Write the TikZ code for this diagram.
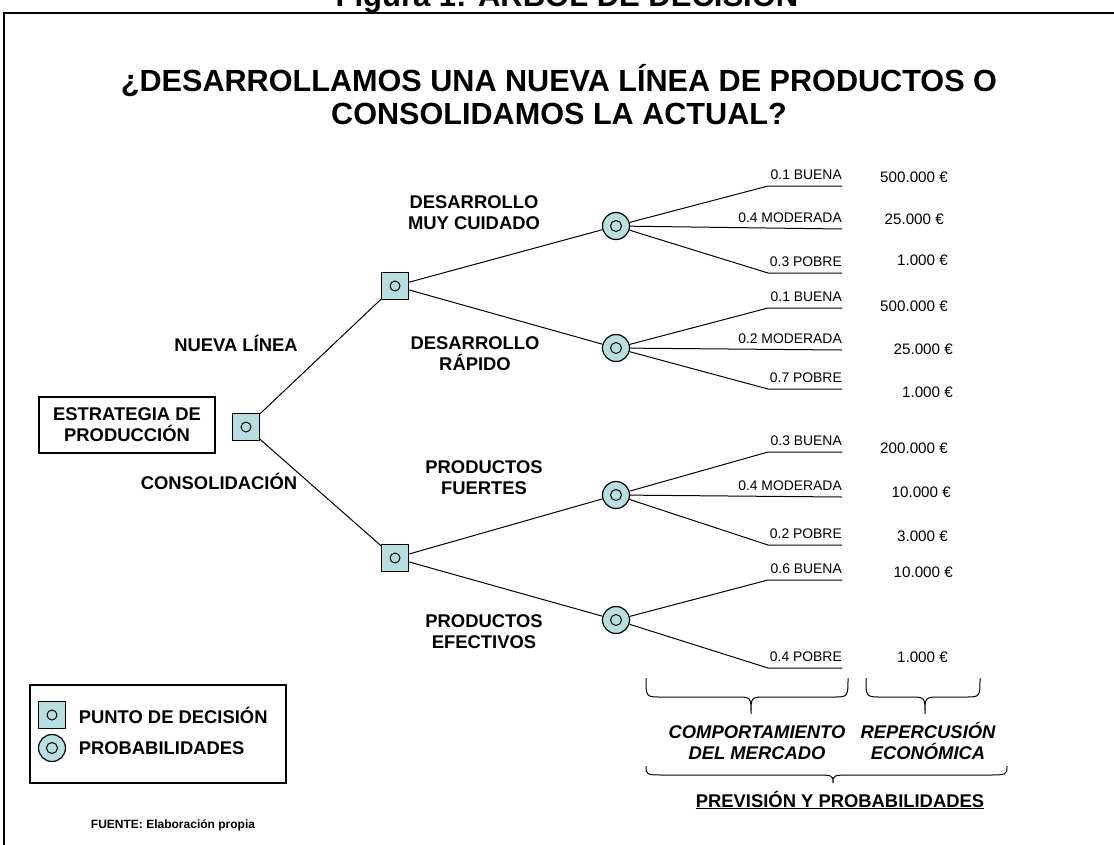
\documentclass[tikz,border=0pt]{standalone}
\usepackage{fontspec}
\setmainfont{Liberation Sans}
\usetikzlibrary{positioning}
\definecolor{celeste}{RGB}{184,222,226}

\begin{document}
\begin{tikzpicture}[
x=1pt, y=-1pt,
decision/.style={rectangle, draw=black, fill=celeste, line width=1.2pt, minimum size=27pt, inner sep=0pt,
  path picture={\draw[line width=1pt] (path picture bounding box.center) circle (5pt);}},
chance/.style={circle, draw=black, fill=celeste, line width=1.2pt, minimum size=27pt, inner sep=0pt,
  path picture={\draw[line width=1pt] (path picture bounding box.center) circle (5.5pt);}},
rama/.style={line width=1pt},
opcion/.style={align=center, font=\fontsize{18.4}{21}\selectfont\bfseries, inner sep=0pt},
mercado/.style={align=center, font=\fontsize{18.4}{21}\selectfont\bfseries\itshape, inner sep=0pt},
prob/.style={anchor=south east, inner xsep=0pt, inner ysep=6pt, font=\fontsize{13.9}{16}\selectfont},
valor/.style={anchor=base east, inner sep=0pt, font=\fontsize{15.2}{18}\selectfont}
]
\useasboundingbox (0,0) rectangle (1114,844);

% marco y titulos
\draw[line width=2pt] (4,850) -- (4,13) -- (1120,13);
\node[font=\fontsize{31}{33}\selectfont\bfseries, anchor=base] (figura) at (567,6) {Figura 1: ÁRBOL DE DECISIÓN};
\node[font=\fontsize{30.6}{33}\selectfont\bfseries, align=center] (titulo) at (559,95)
  {¿DESARROLLAMOS UNA NUEVA LÍNEA DE PRODUCTOS O\\CONSOLIDAMOS LA ACTUAL?};

% nodos del arbol
\node[draw, line width=1.2pt, opcion, minimum width=176pt, minimum height=56pt] (inicio) at (127,425) {ESTRATEGIA DE\\PRODUCCIÓN};
\node[decision] (d0) at (246,427) {};
\node[decision] (d1) at (395,286) {};
\node[decision] (d2) at (395,558) {};
\node[chance] (c1) at (616,226) {};
\node[chance] (c2) at (616,348) {};
\node[chance] (c3) at (616,495) {};
\node[chance] (c4) at (616,620) {};

\draw[rama] (d0) -- (d1);
\draw[rama] (d0) -- (d2);
\draw[rama] (d1) -- (c1);
\draw[rama] (d1) -- (c2);
\draw[rama] (d2) -- (c3);
\draw[rama] (d2) -- (c4);

% etiquetas de las alternativas
\node[opcion] (nueva) at (236,343) {NUEVA LÍNEA};
\node[opcion] (consol) at (219,481) {CONSOLIDACIÓN};
\node[opcion] (cuidado) at (474,213) {DESARROLLO\\MUY CUIDADO};
\node[opcion] (rapido) at (475,354) {DESARROLLO\\RÁPIDO};
\node[opcion] (fuertes) at (484,478) {PRODUCTOS\\FUERTES};
\node[opcion] (efectivos) at (484,632) {PRODUCTOS\\EFECTIVOS};

% ramas de probabilidad
\coordinate (k1a) at (768,186);
\coordinate (k1c) at (768,273);
\node[prob] (p1a) at (842,186) {0.1 BUENA};
\node[prob] (p1b) at (842,229) {0.4 MODERADA};
\node[prob] (p1c) at (842,273) {0.3 POBRE};
\draw[rama] (c1) -- (k1a) -- (p1a.south east);
\draw[rama] (c1) -- (p1b.south east);
\draw[rama] (c1) -- (k1c) -- (p1c.south east);

\coordinate (k2a) at (768,308);
\coordinate (k2c) at (768,389);
\node[prob] (p2a) at (842,308) {0.1 BUENA};
\node[prob] (p2b) at (842,350) {0.2 MODERADA};
\node[prob] (p2c) at (842,389) {0.7 POBRE};
\draw[rama] (c2) -- (k2a) -- (p2a.south east);
\draw[rama] (c2) -- (p2b.south east);
\draw[rama] (c2) -- (k2c) -- (p2c.south east);

\coordinate (k3a) at (768,452);
\coordinate (k3c) at (768,545);
\node[prob] (p3a) at (842,452) {0.3 BUENA};
\node[prob] (p3b) at (842,497) {0.4 MODERADA};
\node[prob] (p3c) at (842,545) {0.2 POBRE};
\draw[rama] (c3) -- (k3a) -- (p3a.south east);
\draw[rama] (c3) -- (p3b.south east);
\draw[rama] (c3) -- (k3c) -- (p3c.south east);

\coordinate (k4a) at (768,580);
\coordinate (k4c) at (768,668);
\node[prob] (p4a) at (842,580) {0.6 BUENA};
\node[prob] (p4c) at (842,668) {0.4 POBRE};
\draw[rama] (c4) -- (k4a) -- (p4a.south east);
\draw[rama] (c4) -- (k4c) -- (p4c.south east);

% repercusion economica
\node[valor] (v1a) at (948,182) {500.000 €};
\node[valor] (v1b) at (944,224) {25.000 €};
\node[valor] (v1c) at (948,265) {1.000 €};
\node[valor] (v2a) at (948,311) {500.000 €};
\node[valor] (v2b) at (953,354) {25.000 €};
\node[valor] (v2c) at (953,397) {1.000 €};
\node[valor] (v3a) at (948,453) {200.000 €};
\node[valor] (v3b) at (951,497) {10.000 €};
\node[valor] (v3c) at (948,541) {3.000 €};
\node[valor] (v4a) at (953,577) {10.000 €};
\node[valor] (v4c) at (948,662) {1.000 €};

% llaves
\draw[rama] (646,678) .. controls (646,697) .. (661,697) -- (736,697) .. controls (751,697) .. (751,714)
  .. controls (751,697) .. (766,697) -- (833,697) .. controls (848,697) .. (848,678);
\draw[rama] (866,678) .. controls (866,697) .. (881,697) -- (910,697) .. controls (925,697) .. (925,714)
  .. controls (925,697) .. (940,697) -- (965,697) .. controls (980,697) .. (980,678);
\draw[rama] (646,766) .. controls (646,775) .. (666,775) -- (813,775) .. controls (833,775) .. (833,783)
  .. controls (833,775) .. (853,775) -- (987,775) .. controls (1007,775) .. (1007,766);
\node[mercado] (comport) at (757,743) {COMPORTAMIENTO\\DEL MERCADO};
\node[mercado] (repercu) at (928,741) {REPERCUSIÓN\\ECONÓMICA};
\node[opcion, anchor=base] (prevision) at (840,807) {\underline{PREVISIÓN Y PROBABILIDADES}};

% leyenda
\draw[line width=1.2pt] (30,685) rectangle (286,783);
\node[decision] (ld) at (52,715) {};
\node[chance] (lc) at (52,748) {};
\node[opcion, right=12.5pt of ld] (ltd) {PUNTO DE DECISIÓN};
\node[opcion, right=12.5pt of lc] (ltc) {PROBABILIDADES};
\node[font=\fontsize{12}{14}\selectfont\bfseries] (fuente) at (173,825) {FUENTE: Elaboración propia};
\end{tikzpicture}
\end{document}
